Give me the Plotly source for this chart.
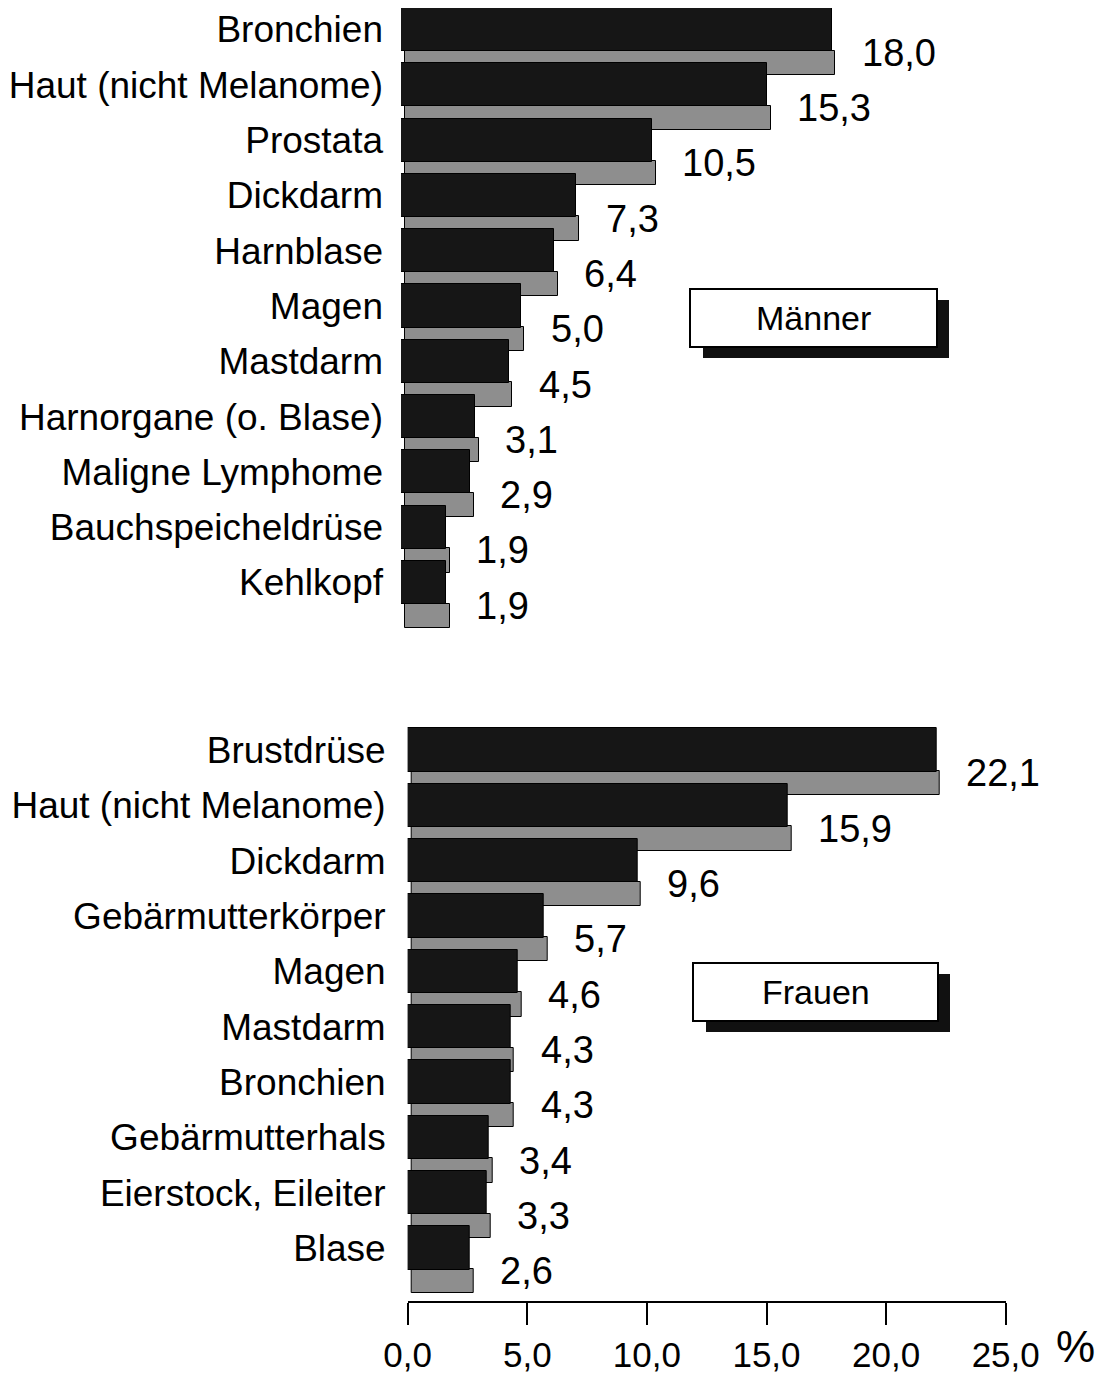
import plotly.graph_objects as go

# Anteil an allen Krebsneuerkrankungen in %
maenner_organ = ["Bronchien", "Haut (nicht Melanome)", "Prostata", "Dickdarm", "Harnblase",
                 "Magen", "Mastdarm", "Harnorgane (o. Blase)", "Maligne Lymphome",
                 "Bauchspeicheldrüse", "Kehlkopf"]
maenner_wert = [18.0, 15.3, 10.5, 7.3, 6.4, 5.0, 4.5, 3.1, 2.9, 1.9, 1.9]

frauen_organ = ["Brustdrüse", "Haut (nicht Melanome)", "Dickdarm", "Gebärmutterkörper", "Magen",
                "Mastdarm", "Bronchien", "Gebärmutterhals", "Eierstock, Eileiter", "Blase"]
frauen_wert = [22.1, 15.9, 9.6, 5.7, 4.6, 4.3, 4.3, 3.4, 3.3, 2.6]

x_ticks = [0, 5, 10, 15, 20, 25]

# the page body has an 8px margin, so the figure is a bit smaller and offset
OFF = 8
W, H = 1109 - OFF, 1374 - OFF
FONT = "Liberation Sans, Arial, sans-serif"
DARK = "#161616"
GREY = "#8e8e8e"


def px_x(p):
    return (p - OFF) / W


def px_y(p):
    return 1 - (p - OFF) / H


def de(v):
    return f"{v:.1f}".replace(".", ",")


fig = go.Figure()


def add_panel(organs, values, xa, ya):
    rows = list(range(len(organs)))
    # untere (graue) Fläche zuerst, die dunkle Vorderseite liegt darüber
    fig.add_trace(go.Bar(
        x=values, y=rows, base=0.15, orientation="h", offset=0.38, width=0.44,
        marker=dict(color=GREY, line=dict(color="black", width=1)),
        xaxis=xa, yaxis=ya, showlegend=False, hoverinfo="skip"))
    fig.add_trace(go.Bar(
        x=values, y=rows, orientation="h", offset=-0.39, width=0.78,
        marker=dict(color=DARK, line=dict(color="black", width=1)),
        xaxis=xa, yaxis=ya, showlegend=False, hoverinfo="skip"))
    for r, v in zip(rows, values):
        fig.add_annotation(x=v, y=r + 0.42, xref=xa, yref=ya, text=de(v),
                           showarrow=False, xanchor="left", yanchor="middle", xshift=28,
                           font=dict(size=38, color="black", family=FONT))
    return rows


rows_m = add_panel(maenner_organ, maenner_wert, "x", "y")
rows_f = add_panel(frauen_organ, frauen_wert, "x2", "y2")

yaxis_common = dict(autorange=False, automargin=False, showline=False, showgrid=False,
                    zeroline=False, ticks="",
                    tickfont=dict(size=37, color="black", family=FONT))

fig.update_layout(
    template="none",
    width=W, height=H,
    margin=dict(l=0, r=0, t=0, b=0, autoexpand=False),
    paper_bgcolor="white", plot_bgcolor="white",
    barmode="overlay", bargap=0,
    font=dict(family=FONT, color="black"),
    xaxis=dict(domain=[px_x(401), px_x(999)], range=[0, 25], anchor="y",
               visible=False, automargin=False),
    yaxis=dict(domain=[px_y(650), px_y(OFF)],
               range=[(650 - 29.5) / 55.3, -(29.5 - OFF) / 55.3],
               anchor="x", tickvals=rows_m, ticktext=maenner_organ,
               ticklabelstandoff=17, **yaxis_common),
    xaxis2=dict(domain=[px_x(407.7), px_x(1005.7)], range=[0, 25], anchor="y2",
                automargin=False, showline=True, linecolor="black", linewidth=2,
                showgrid=False, zeroline=False,
                ticks="outside", ticklen=22, tickwidth=2, tickcolor="black",
                tickvals=x_ticks, ticktext=[de(t) for t in x_ticks], ticklabelstandoff=0,
                tickfont=dict(size=35, color="black", family=FONT)),
    yaxis2=dict(domain=[px_y(1301), px_y(700)], range=[(1301 - 750) / 55.33, -50 / 55.33],
                anchor="x2", tickvals=rows_f, ticktext=frauen_organ,
                ticklabelstandoff=21, **yaxis_common),
)

fig.add_annotation(x=px_x(1075), y=px_y(1346), xref="paper", yref="paper", text="%",
                   showarrow=False, xanchor="center", yanchor="middle",
                   font=dict(size=44, color="black", family=FONT))


def legend_box(x0, y0, x1, y1, label):
    fig.add_shape(type="rect", xref="paper", yref="paper",
                  x0=px_x(x0 + 13), x1=px_x(x1 + 12), y0=px_y(y1 + 11), y1=px_y(y0 + 11),
                  fillcolor="#111111", line=dict(width=0))
    fig.add_shape(type="rect", xref="paper", yref="paper",
                  x0=px_x(x0), x1=px_x(x1), y0=px_y(y1), y1=px_y(y0),
                  fillcolor="white", line=dict(color="black", width=2))
    fig.add_annotation(x=px_x((x0 + x1) / 2), y=px_y((y0 + y1) / 2), xref="paper", yref="paper",
                       text=label, showarrow=False, xanchor="center", yanchor="middle",
                       font=dict(size=34, color="black", family=FONT))


legend_box(690, 289, 937, 347, "Männer")
legend_box(693, 963, 938, 1021, "Frauen")

fig.write_html("out.html")
